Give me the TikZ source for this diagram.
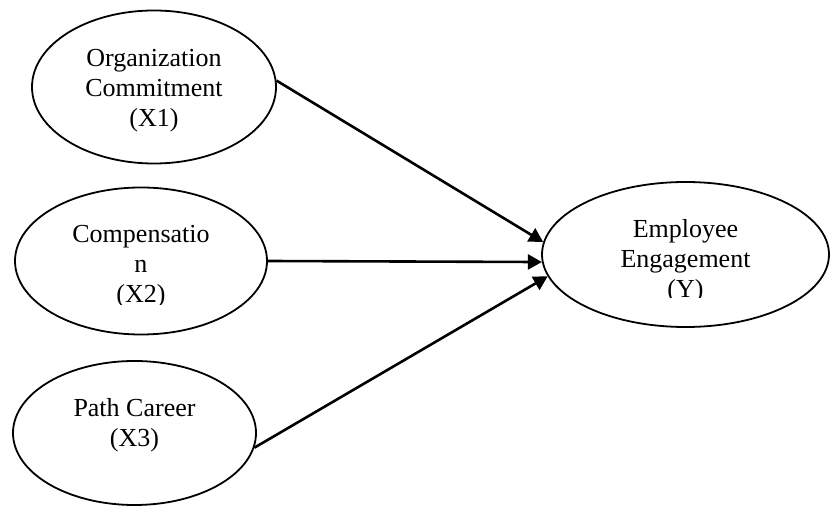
\documentclass[tikz,border=0pt]{standalone}
\usepackage{fontspec}
\setmainfont{Liberation Serif}
\usetikzlibrary{arrows.meta, shapes.geometric}

\begin{document}
\begin{tikzpicture}[
    x=0.5pt, y=-0.5pt,
    >={Triangle[length=7pt, width=7.5pt]},
    % Styles for the latent variables, their captions and the paths
    construct/.style={ellipse, draw=black, line width=0.9pt, inner sep=0pt},
    caption/.style={align=center, inner sep=0pt, font=\fontsize{13}{15}\selectfont},
    path/.style={->, line width=1.3pt}
]
  \useasboundingbox (0,0) rectangle (831,507);

  % --- INDEPENDENT VARIABLES ---
  \node[construct, minimum width=122pt, minimum height=76.5pt] (commit) at (154,87) {};
  \node[caption, yshift=-2pt] (commit-text) at (commit) {Organization \\ Commitment \\ (X1)};

  \node[construct, minimum width=126pt, minimum height=73.5pt] (comp) at (141,261) {};
  \begin{scope} % caption box cuts off the last line
    \clip (0,0) rectangle (831,305);
    \node[caption, yshift=-3pt] (comp-text) at (comp) {Compensatio \\ n \\ (X2)};
  \end{scope}

  \node[construct, minimum width=121.5pt, minimum height=72pt] (career) at (134.5,433) {};
  \node[caption, yshift=4pt] (career-text) at (career) {Path Career \\ (X3)};

  % --- DEPENDENT VARIABLE ---
  \node[construct, minimum width=143.5pt, minimum height=72.5pt] (engage) at (685.5,254.5) {};
  \begin{scope}
    \clip (0,0) rectangle (831,298);
    \node[caption, yshift=-3.25pt] (engage-text) at (engage) {Employee \\ Engagement \\ (Y)};
  \end{scope}

  % --- PATHS ---
  \draw[path] (commit.3) -- (engage.175);
  \draw[path] (comp.east) -- (engage.183);
  \draw[path] (career.-7) -- (engage.189);

\end{tikzpicture}
\end{document}
